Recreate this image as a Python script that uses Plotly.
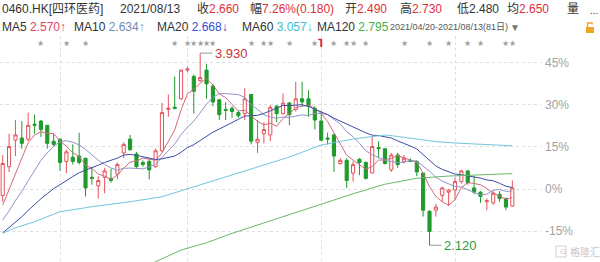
import plotly.graph_objects as go

# ---------------- data ----------------
P0 = 2.65  # price that the right-hand axis calls 0%

opens = [2.59, 2.86, 3.11, 3.13, 3.12, 3.26, 3.29, 3.25, 3.10, 3.12,
         2.91, 2.95, 2.96, 2.94, 2.76, 2.68, 2.76, 2.75, 2.79, 2.99,
         3.12, 2.98, 2.90, 2.91, 2.86, 3.01, 3.40, 3.42, 3.50, 3.77,
         3.71, 3.67, 3.77, 3.62, 3.49, 3.40, 3.41, 3.37, 3.36, 3.54,
         3.09, 3.17, 3.16, 3.43, 3.36, 3.46, 3.40, 3.50, 3.50, 3.41,
         3.29, 3.13, 3.16, 2.89, 2.92, 2.80, 2.93, 2.90, 2.80, 3.04,
         3.03, 2.83, 2.97, 2.91, 2.92, 2.91, 2.80, 2.44, 2.45, 2.59,
         2.62, 2.64, 2.72, 2.82, 2.66, 2.62, 2.53, 2.52, 2.60, 2.56,
         2.49]
highs = [2.97, 3.17, 3.30, 3.29, 3.37, 3.35, 3.30, 3.25, 3.17, 3.12,
         3.02, 3.07, 3.18, 2.94, 2.86, 2.77, 2.85, 2.84, 2.90, 3.09,
         3.16, 3.00, 2.92, 2.94, 3.03, 3.46, 3.54, 3.71, 3.77, 3.80,
         3.73, 3.93, 3.83, 3.64, 3.50, 3.47, 3.43, 3.39, 3.60, 3.54,
         3.30, 3.28, 3.44, 3.44, 3.55, 3.47, 3.66, 3.66, 3.58, 3.43,
         3.38, 3.18, 3.17, 2.94, 2.94, 2.91, 2.94, 2.91, 3.14, 3.10,
         3.03, 2.99, 2.99, 2.97, 2.94, 2.92, 2.80, 2.45, 2.51, 2.67,
         2.65, 2.76, 2.83, 2.83, 2.77, 2.63, 2.56, 2.63, 2.63, 2.57,
         2.73]
lows = [2.53, 2.81, 2.96, 3.03, 3.10, 3.17, 3.14, 3.03, 3.05, 2.82,
        2.80, 2.88, 2.88, 2.58, 2.69, 2.56, 2.61, 2.71, 2.74, 2.94,
        3.01, 2.85, 2.86, 2.74, 2.85, 3.00, 3.33, 3.40, 3.49, 3.75,
        3.36, 3.66, 3.50, 3.43, 3.30, 3.30, 3.32, 3.32, 3.30, 3.07,
        2.99, 3.08, 3.10, 3.28, 3.35, 3.25, 3.38, 3.43, 3.33, 3.21,
        3.10, 3.07, 2.81, 2.88, 2.66, 2.72, 2.78, 2.74, 2.80, 2.94,
        2.88, 2.81, 2.85, 2.89, 2.91, 2.77, 2.39, 2.12, 2.39, 2.53,
        2.49, 2.55, 2.70, 2.69, 2.60, 2.52, 2.45, 2.50, 2.53, 2.45,
        2.48]
closes = [2.89, 3.05, 3.16, 3.08, 3.25, 3.25, 3.21, 3.08, 3.07, 2.90,
          3.00, 2.91, 2.90, 2.66, 2.75, 2.73, 2.82, 2.73, 2.88, 3.07,
          3.02, 2.86, 2.88, 2.83, 3.01, 3.37, 3.41, 3.41, 3.77, 3.78,
          3.57, 3.70, 3.64, 3.47, 3.35, 3.39, 3.38, 3.34, 3.50, 3.10,
          3.12, 3.21, 3.42, 3.36, 3.46, 3.35, 3.50, 3.47, 3.43, 3.30,
          3.11, 3.12, 2.96, 2.92, 2.73, 2.88, 2.90, 2.75, 3.05, 3.03,
          2.89, 2.97, 2.88, 2.94, 2.91, 2.81, 2.45, 2.25, 2.48, 2.66,
          2.64, 2.72, 2.82, 2.71, 2.62, 2.58, 2.54, 2.61, 2.56, 2.48,
          2.66]
# closes before the window, inferred from where the MA5/10/20 lines start
pre_closes = [2.05, 2.08, 2.10, 2.06, 2.12, 2.15, 2.11, 2.13, 2.16, 2.18,
              2.20, 2.18, 2.22, 2.25, 2.24, 2.30, 2.38, 2.42, 2.50]
# long averages (they need history far before the window)
ma60_idx = [0, 2, 5, 9, 14, 20, 25, 29, 35, 40, 45, 50, 55, 60, 62, 65, 68, 71, 74, 77, 80]
ma60_val = [2.233, 2.285, 2.342, 2.436, 2.483, 2.530, 2.577, 2.650, 2.766, 2.857,
            2.951, 3.064, 3.121, 3.159, 3.145, 3.118, 3.096, 3.083, 3.074, 3.063, 3.057]
ma120_idx = [20, 24, 28, 32, 36, 40, 45, 50, 55, 60, 65, 70, 75, 80]
ma120_val = [1.88, 1.965, 2.075, 2.144, 2.232, 2.31, 2.41, 2.51, 2.605, 2.695,
             2.751, 2.772, 2.783, 2.795]
star_idx = [6, 10, 13, 27, 29, 30, 31, 32, 33, 39, 41, 42, 45, 49, 52, 54, 55, 57,
            63, 67, 70, 73, 75, 79, 80]
flag_idx = 50
month_starts = [9, 29, 50, 71]
pct_levels = [45, 30, 15, 0, -15]

# ---------------- figure ----------------
W, H = 600, 262
ML, MR, MT, MB = 0, 59, 36, 0
PW, PH = W - ML - MR, H - MT - MB

def px(x):
    return (x - ML) / PW

def py(y):
    return (H - MB - y) / PH

n = len(closes)
idx = list(range(n))
allc = pre_closes + closes

def ma(k):
    out = []
    for i in range(n):
        j = len(pre_closes) + i
        out.append(sum(allc[j - k + 1:j + 1]) / k)
    return out

RED = "#e5535a"
GREEN = "#1f9b2c"

fig = go.Figure()
fig.add_trace(go.Candlestick(
    x=idx, open=opens, high=highs, low=lows, close=closes,
    increasing=dict(line=dict(color=RED, width=1), fillcolor="#ffffff"),
    decreasing=dict(line=dict(color=GREEN, width=1), fillcolor=GREEN),
    whiskerwidth=0, hoverinfo="skip", showlegend=False))

lines = [
    (idx, ma(5), "#d2697c"),
    (idx, ma(10), "#9294c8"),
    (idx, ma(20), "#3b4ea6"),
    (ma60_idx, ma60_val, "#72c6dc"),
    (ma120_idx, ma120_val, "#68b868"),
]
for xs, ys, col in lines:
    fig.add_trace(go.Scatter(x=xs, y=ys, mode="lines", line=dict(color=col, width=1),
                             hoverinfo="skip", showlegend=False))

ymin = P0 + (189 - 262) * 0.00942
ymax = P0 + (189 - 36) * 0.00942
FONT = "Liberation Sans, Arial, Noto Sans CJK SC, sans-serif"

fig.update_layout(
    width=W, height=H, margin=dict(l=ML, r=MR, t=MT, b=MB),
    paper_bgcolor="white", plot_bgcolor="white",
    font=dict(family=FONT, size=12, color="#333"),
    showlegend=False, hovermode=False, dragmode=False,
    xaxis=dict(range=[-0.424, 84.5], tickvals=month_starts, showticklabels=False,
               showgrid=True, gridcolor="#dedede", griddash="dot", gridwidth=1,
               zeroline=False, showline=False, ticks="", rangeslider=dict(visible=False)),
    yaxis=dict(range=[ymin, ymax], side="right",
               tickvals=[P0 * (1 + p / 100) for p in pct_levels],
               ticktext=[f"{p}%" for p in pct_levels],
               showgrid=True, gridcolor="#dedede", griddash="dot", gridwidth=1,
               zeroline=False, showline=False, ticks="", ticklabelstandoff=3,
               tickfont=dict(color="#a3a3a3", size=12)),
)

anns = []
shapes = []

def txt(x, y, text, color="#333", size=12, anchor="left"):
    anns.append(dict(x=px(x), y=py(y), xref="paper", yref="paper", text=text,
                     showarrow=False, xanchor=anchor, yanchor="middle",
                     font=dict(family=FONT, size=size, color=color)))

def sp(color, s):
    return f"<span style='color:{color}'>{s}</span>"

HR = "#e0303a"
# header line 1
txt(0, 9, "0460.HK[四环医药]")
txt(118, 9, "2021/08/13")
txt(195, 9, "收" + sp(HR, "2.660"))
txt(248, 9, "幅" + sp(HR, "7.26%(0.180)"))
txt(343, 9, "开" + sp(HR, "2.490"))
txt(398, 9, "高" + sp(HR, "2.730"))
txt(455, 9, "低2.480")
txt(505, 9, "均" + sp(HR, "2.650"))
txt(565, 9, "量")
txt(588, 10, "...", "#333", 10)
# header line 2
txt(0, 27, "MA5 " + sp("#e2445c", "2.570↑"))
txt(72, 27, "MA10 " + sp("#6f8cb0", "2.634↑"))
txt(155, 27, "MA20 " + sp("#2f4fd6", "2.668↓"))
txt(240, 27, "MA60 " + sp("#3cbccb", "3.057↓"))
txt(315, 27, "MA120 " + sp("#45b04c", "2.795"))
txt(388, 27, "2021/04/20-2021/08/13(81日)", "#555", 9)
txt(508, 27, "▼", "#777", 10)
# lock icon
shapes.append(dict(type="rect", xref="paper", yref="paper", x0=px(586), x1=px(594),
                   y0=py(33), y1=py(27), fillcolor="#f0a428", line=dict(width=0)))
shapes.append(dict(type="path", xref="paper", yref="paper",
                   path=f"M {px(587.5)},{py(27)} L {px(587.5)},{py(23)} L {px(592)},{py(23)} L {px(592)},{py(24.5)}",
                   line=dict(color="#f0a428", width=1.5)))

# star markers
for s in star_idx:
    anns.append(dict(x=s, y=py(43), xref="x", yref="paper", text="★", showarrow=False,
                     xanchor="center", yanchor="middle",
                     font=dict(family="DejaVu Sans", size=8, color="#a0a0a0")))
shapes.append(dict(type="line", xref="x", yref="paper", x0=flag_idx, x1=flag_idx,
                   y0=py(47), y1=py(39), line=dict(color="#e03030", width=2)))
shapes.append(dict(type="line", xref="x", yref="paper", x0=flag_idx - 0.5, x1=flag_idx,
                   y0=py(39.5), y1=py(39.5), line=dict(color="#e03030", width=1.5)))

# high / low labels
hi = max(highs); ihi = highs.index(hi)
lo = min(lows); ilo = lows.index(lo)
shapes.append(dict(type="line", xref="x", yref="y", x0=ihi, x1=ihi + 1.9, y0=hi, y1=hi,
                   line=dict(color="#999", width=1)))
anns.append(dict(x=ihi + 2.0, y=hi, xref="x", yref="y", text=f"{hi:.3f}", showarrow=False,
                 xanchor="left", yanchor="middle", font=dict(family=FONT, size=13, color="#c83434")))
shapes.append(dict(type="line", xref="x", yref="y", x0=ilo, x1=ilo + 1.9, y0=lo, y1=lo,
                   line=dict(color="#999", width=1)))
anns.append(dict(x=ilo + 2.0, y=lo, xref="x", yref="y", text=f"{lo:.3f}", showarrow=False,
                 xanchor="left", yanchor="middle", font=dict(family=FONT, size=13, color="#2e9a3e")))

# watermark
shapes.append(dict(type="rect", xref="paper", yref="paper", x0=px(556), x1=px(566),
                   y0=py(257), y1=py(246), line=dict(color="#cfcfcf", width=1)))
txt(558, 251.5, "G", "#c8c8c8", 8)
txt(568, 251.5, "格隆汇", "#c8c8c8", 10)

fig.update_layout(annotations=anns, shapes=shapes)
fig.write_html("out.html", config=dict(displayModeBar=False, staticPlot=True))
